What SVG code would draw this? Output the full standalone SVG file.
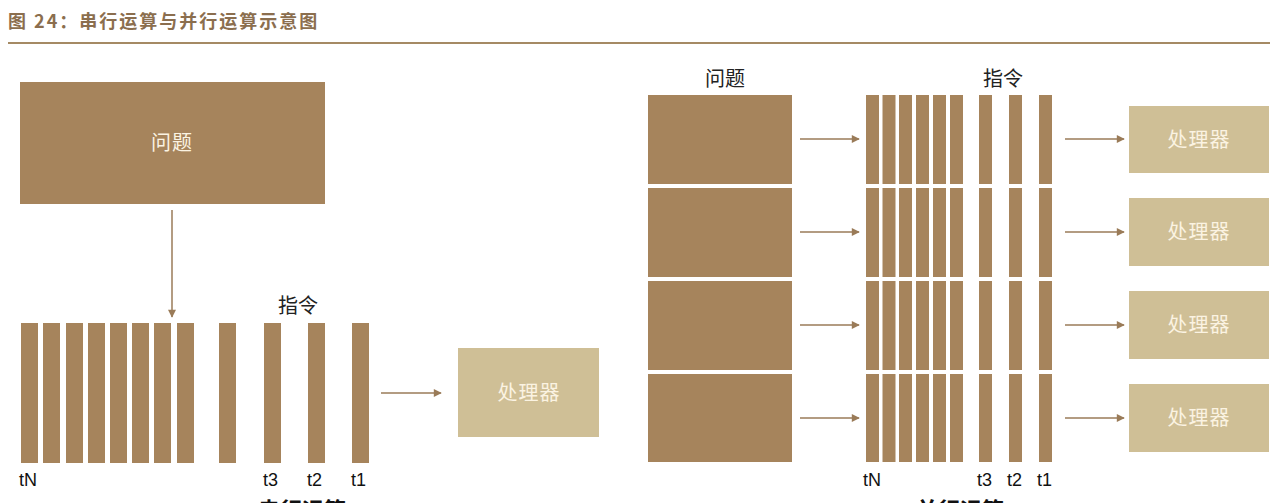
<svg xmlns="http://www.w3.org/2000/svg" width="1280" height="503" viewBox="0 0 1280 503">
<defs>
<style>
.bar{fill:#a6845c}
.proc{fill:#cfbf96}
.lbl{font-family:"Noto Sans CJK SC",sans-serif;font-size:20px;fill:#fbf3e2;text-anchor:middle;letter-spacing:1px}
.hd{font-family:"Noto Sans CJK SC",sans-serif;font-size:20px;fill:#222;text-anchor:middle}
.t{font-family:"Liberation Sans",Arial,sans-serif;font-size:18px;fill:#111}
.cap{font-family:"Noto Sans CJK SC",sans-serif;font-size:22px;font-weight:bold;fill:#111;text-anchor:middle}
.ln{stroke:#9a7b58;stroke-width:1.5;fill:none}
</style>
<marker id="ah" viewBox="0 0 10 10" refX="9" refY="5" markerWidth="9" markerHeight="8" markerUnits="userSpaceOnUse" orient="auto">
<path d="M0,0 L10,5 L0,10 z" fill="#9a7b58"/>
</marker>
</defs>
<rect width="1280" height="503" fill="#ffffff"/>
<g id="title">
<text x="8" y="28" font-family="'Noto Sans CJK SC',sans-serif" font-size="18" font-weight="bold" letter-spacing="2" fill="#8b6e4e">图 24：串行运算与并行运算示意图</text>
<line x1="8" y1="43" x2="1270" y2="43" stroke="#a58a64" stroke-width="2"/>
</g>
<g id="serial-problem">
<rect x="20" y="82" width="305" height="122" class="bar"/>
<text x="172" y="150" class="lbl">问题</text>
</g>
<g id="serial-instructions">
<text x="298" y="313" class="hd">指令</text>
<rect x="21" y="323" width="17" height="140" class="bar"/>
<rect x="43" y="323" width="17" height="140" class="bar"/>
<rect x="66" y="323" width="17" height="140" class="bar"/>
<rect x="88" y="323" width="17" height="140" class="bar"/>
<rect x="110" y="323" width="17" height="140" class="bar"/>
<rect x="132" y="323" width="17" height="140" class="bar"/>
<rect x="154" y="323" width="17" height="140" class="bar"/>
<rect x="177" y="323" width="17" height="140" class="bar"/>
<rect x="219" y="323" width="17" height="140" class="bar"/>
<rect x="264" y="323" width="17" height="140" class="bar"/>
<rect x="308" y="323" width="17" height="140" class="bar"/>
<rect x="352" y="323" width="17" height="140" class="bar"/>
<text x="19" y="486" class="t">tN</text>
<text x="263" y="486" class="t">t3</text>
<text x="307" y="486" class="t">t2</text>
<text x="351" y="486" class="t">t1</text>
<text x="302" y="518" class="cap">串行运算</text>
</g>
<g id="serial-processor">
<rect x="458" y="348" width="141" height="89" class="proc"/>
<text x="529" y="400" class="lbl">处理器</text>
</g>
<g id="parallel-problem">
<text x="725" y="86" class="hd">问题</text>
<rect x="648" y="95" width="144" height="89" class="bar"/>
<rect x="648" y="188" width="144" height="89" class="bar"/>
<rect x="648" y="281" width="144" height="89" class="bar"/>
<rect x="648" y="374" width="144" height="88" class="bar"/>
</g>
<g id="parallel-instructions">
<text x="1003" y="86" class="hd">指令</text>
<g id="bars-row1">
<rect x="866" y="95" width="13" height="89" class="bar"/><rect x="882.5" y="95" width="13" height="89" class="bar"/><rect x="899" y="95" width="13" height="89" class="bar"/><rect x="916" y="95" width="13" height="89" class="bar"/><rect x="933" y="95" width="13" height="89" class="bar"/><rect x="950" y="95" width="13" height="89" class="bar"/><rect x="979" y="95" width="13" height="89" class="bar"/><rect x="1009" y="95" width="13" height="89" class="bar"/><rect x="1039" y="95" width="13" height="89" class="bar"/>
</g>
<g id="bars-row2">
<rect x="866" y="188" width="13" height="89" class="bar"/><rect x="882.5" y="188" width="13" height="89" class="bar"/><rect x="899" y="188" width="13" height="89" class="bar"/><rect x="916" y="188" width="13" height="89" class="bar"/><rect x="933" y="188" width="13" height="89" class="bar"/><rect x="950" y="188" width="13" height="89" class="bar"/><rect x="979" y="188" width="13" height="89" class="bar"/><rect x="1009" y="188" width="13" height="89" class="bar"/><rect x="1039" y="188" width="13" height="89" class="bar"/>
</g>
<g id="bars-row3">
<rect x="866" y="281" width="13" height="89" class="bar"/><rect x="882.5" y="281" width="13" height="89" class="bar"/><rect x="899" y="281" width="13" height="89" class="bar"/><rect x="916" y="281" width="13" height="89" class="bar"/><rect x="933" y="281" width="13" height="89" class="bar"/><rect x="950" y="281" width="13" height="89" class="bar"/><rect x="979" y="281" width="13" height="89" class="bar"/><rect x="1009" y="281" width="13" height="89" class="bar"/><rect x="1039" y="281" width="13" height="89" class="bar"/>
</g>
<g id="bars-row4">
<rect x="866" y="374" width="13" height="88" class="bar"/><rect x="882.5" y="374" width="13" height="88" class="bar"/><rect x="899" y="374" width="13" height="88" class="bar"/><rect x="916" y="374" width="13" height="88" class="bar"/><rect x="933" y="374" width="13" height="88" class="bar"/><rect x="950" y="374" width="13" height="88" class="bar"/><rect x="979" y="374" width="13" height="88" class="bar"/><rect x="1009" y="374" width="13" height="88" class="bar"/><rect x="1039" y="374" width="13" height="88" class="bar"/>
</g>
<text x="863" y="486" class="t">tN</text>
<text x="977" y="486" class="t">t3</text>
<text x="1007" y="486" class="t">t2</text>
<text x="1037" y="486" class="t">t1</text>
<text x="960" y="518" class="cap">并行运算</text>
</g>
<g id="parallel-processor-1"><rect x="1129" y="106" width="140" height="67" class="proc"/><text x="1199" y="147" class="lbl">处理器</text></g>
<g id="parallel-processor-2"><rect x="1129" y="198" width="140" height="68" class="proc"/><text x="1199" y="239" class="lbl">处理器</text></g>
<g id="parallel-processor-3"><rect x="1129" y="291" width="140" height="68" class="proc"/><text x="1199" y="332" class="lbl">处理器</text></g>
<g id="parallel-processor-4"><rect x="1129" y="384" width="140" height="68" class="proc"/><text x="1199" y="425" class="lbl">处理器</text></g>
<g id="connectors">
<line x1="172" y1="210" x2="172" y2="317" class="ln" marker-end="url(#ah)"/>
<line x1="381" y1="393" x2="441" y2="393" class="ln" marker-end="url(#ah)"/>
<line x1="800" y1="139" x2="859" y2="139" class="ln" marker-end="url(#ah)"/>
<line x1="800" y1="232" x2="859" y2="232" class="ln" marker-end="url(#ah)"/>
<line x1="800" y1="325" x2="859" y2="325" class="ln" marker-end="url(#ah)"/>
<line x1="800" y1="418" x2="859" y2="418" class="ln" marker-end="url(#ah)"/>
<line x1="1065" y1="139" x2="1124" y2="139" class="ln" marker-end="url(#ah)"/>
<line x1="1065" y1="232" x2="1124" y2="232" class="ln" marker-end="url(#ah)"/>
<line x1="1065" y1="325" x2="1124" y2="325" class="ln" marker-end="url(#ah)"/>
<line x1="1065" y1="418" x2="1124" y2="418" class="ln" marker-end="url(#ah)"/>
</g>
</svg>
